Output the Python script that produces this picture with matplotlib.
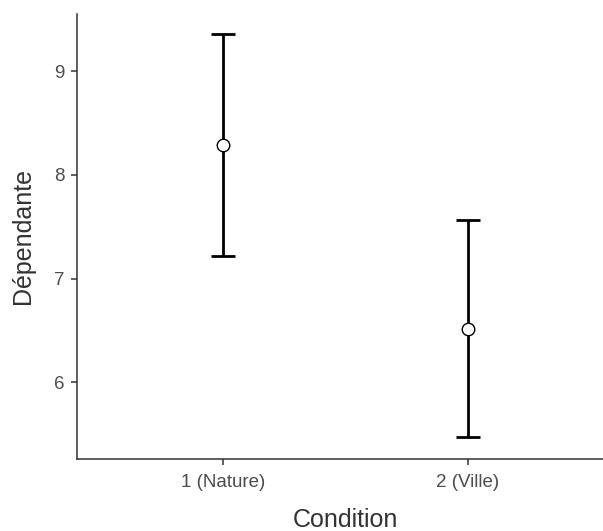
import matplotlib
matplotlib.use("Agg")
import matplotlib.pyplot as plt

conditions = ["1 (Nature)", "2 (Ville)"]
means = [8.29, 6.515]
lower = [7.215, 5.465]
upper = [9.365, 7.565]

plt.rcParams['font.family'] = ['Liberation Sans', 'DejaVu Sans']

fig = plt.figure(figsize=(6.03, 5.31), dpi=100)
ax = fig.add_axes([77/603, 1-459/531, (614-77)/603, (459-13.5)/531])

x = list(range(1, len(conditions)+1))
yerr = [[m - l for m, l in zip(means, lower)], [u - m for m, u in zip(means, upper)]]
ax.errorbar(x, means, yerr=yerr, fmt='none', ecolor='black', elinewidth=2.0,
            capsize=8.5, capthick=2.0, zorder=2)
ax.plot(x, means, 'o', markersize=9, markerfacecolor='white', markeredgecolor='black',
        markeredgewidth=1.0, zorder=3)

ax.set_xlim(0.4, 2.6)
ax.set_ylim(5.2565, 9.56)
ax.set_xticks(x)
ax.set_xticklabels(conditions)
ax.set_yticks([6, 7, 8, 9])

for s in ['top', 'right']:
    ax.spines[s].set_visible(False)
for s in ['left', 'bottom']:
    ax.spines[s].set_color('#333333')
    ax.spines[s].set_linewidth(1.1)
ax.tick_params(colors='#333333', labelcolor='#4d4d4d', labelsize=13.5, length=4, width=1.1, pad=5)
ax.tick_params(axis='x', pad=7)

ax.set_xlabel('Condition', fontsize=18, color='#333333', labelpad=12)
ax.set_ylabel('Dépendante', fontsize=18, color='#333333', labelpad=14)

fig.savefig('out.png', dpi=100)
